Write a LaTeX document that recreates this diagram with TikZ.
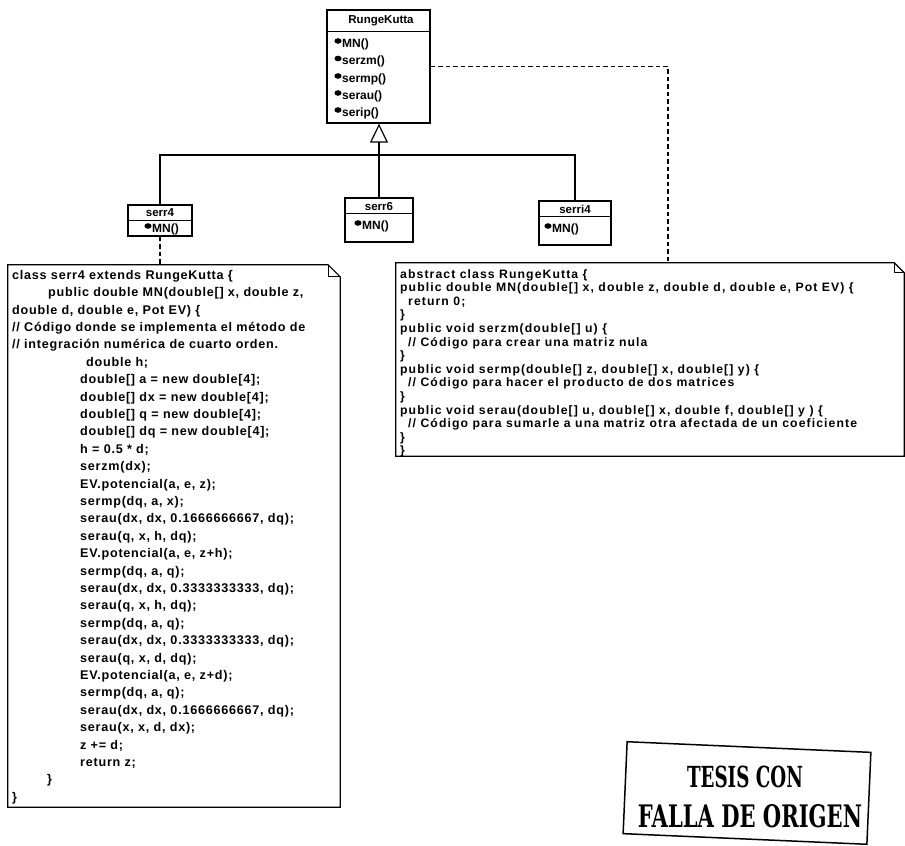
\documentclass[tikz,border=0pt]{standalone}
\usepackage{fontspec}
\setmainfont{Liberation Sans}
\newfontfamily\leftcode[LetterSpace=6]{Liberation Sans}
\newfontfamily\rightcode[LetterSpace=9]{Liberation Sans}
\newfontfamily\stampfont[FakeStretch=0.68]{DejaVu Serif}
\newfontfamily\stampnarrow[FakeStretch=0.63]{DejaVu Serif}
\usetikzlibrary{arrows.meta}
\begin{document}
\begin{tikzpicture}[x=1pt,y=-1pt,
  umlbox/.style={draw, line width=1.3pt, inner sep=0pt},
  conn/.style={line width=1.2pt},
  dashconn/.style={line width=1.2pt, dash pattern=on 4.5pt off 3pt},
  cname/.style={font=\bfseries\fontsize{11.5}{13}\selectfont, inner sep=0pt},
  meth/.style={font=\bfseries\fontsize{12}{13}\selectfont, inner sep=0pt, anchor=west},
  opicon/.style={fill, x radius=3.6pt, y radius=2.8pt},
  code/.style={anchor=north west, align=left, inner sep=0pt},
  note/.style={inner sep=0pt},
  notedraw/.style={line width=1.2pt},
  stamptxt/.style={inner sep=0pt}
]
\fill[white, use as bounding box] (0,0) rectangle (905,846);

% ---- RungeKutta class
\node[umlbox, minimum width=103pt, minimum height=113pt] (rk) at (378.5,66.5) {};
\draw[line width=1.3pt] ([yshift=-22pt]rk.north west) -- ([yshift=-22pt]rk.north east);
\node[cname] (rkt) at (381,21) {RungeKutta};
\foreach \n/\t/\yy in {m1/MN()/44, m2/serzm()/61.5, m3/sermp()/79, m4/serau()/96, m5/serip()/113} {
  \fill[opicon] (338,\yy-3) ellipse [];
  \node[meth] (rk\n) at (342,\yy) {\t};
}

% ---- subclasses
\node[umlbox, minimum width=64pt, minimum height=31pt] (s4) at (160,220.5) {};
\draw[line width=1.3pt] ([yshift=-16pt]s4.north west) -- ([yshift=-16pt]s4.north east);
\node[cname] (s4t) at (160,213) {serr4};
\fill[opicon] (148,226) ellipse [];
\node[meth] (s4m) at (152,229) {MN()};

\node[umlbox, minimum width=68pt, minimum height=44pt] (s6) at (379,220) {};
\draw[line width=1.3pt] ([yshift=-16pt]s6.north west) -- ([yshift=-16pt]s6.north east);
\node[cname] (s6t) at (379,206.5) {serr6};
\fill[opicon] (358,223) ellipse [];
\node[meth] (s6m) at (362,226) {MN()};

\node[umlbox, minimum width=72pt, minimum height=44pt] (si4) at (575,223) {};
\draw[line width=1.3pt] ([yshift=-16pt]si4.north west) -- ([yshift=-16pt]si4.north east);
\node[cname] (si4t) at (575,209.5) {serri4};
\fill[opicon] (548,226) ellipse [];
\node[meth] (si4m) at (552,229.5) {MN()};

% ---- generalization
\coordinate (jn) at (379,155);
\draw[conn, -{Triangle[open, length=19pt, width=18pt, line width=1.2pt]}] (jn) -- (rk.south -| jn);
\draw[conn] (s4.north) |- (jn) -| (si4.north);
\draw[conn] (s6.north) -- (jn);

% ---- left note
\node[note, minimum width=332pt, minimum height=542pt] (ln) at (174,536) {};
\draw[notedraw] (ln.north west) -- ([xshift=-12pt]ln.north east) -- ([yshift=-12pt]ln.north east) -- (ln.south east) -- (ln.south west) -- cycle;
\draw[notedraw] ([xshift=-12pt]ln.north east) -- ([xshift=-12pt,yshift=-12pt]ln.north east) -- ([yshift=-12pt]ln.north east);
\node[code, font=\leftcode\bfseries\fontsize{12.6}{17.4}\selectfont] (lnt) at (12,270) {%
class serr4 extends RungeKutta \{\\
\hspace*{36pt}public double MN(double[] x, double z,\\
double d, double e, Pot EV) \{\\
// Código donde se implementa el método de\\
// integración numérica de cuarto orden.\\
\hspace*{74pt}double h;\\
\hspace*{68pt}double[] a = new double[4];\\
\hspace*{68pt}double[] dx = new double[4];\\
\hspace*{68pt}double[] q = new double[4];\\
\hspace*{68pt}double[] dq = new double[4];\\
\hspace*{68pt}h = 0.5 * d;\\
\hspace*{68pt}serzm(dx);\\
\hspace*{68pt}EV.potencial(a, e, z);\\
\hspace*{68pt}sermp(dq, a, x);\\
\hspace*{68pt}serau(dx, dx, 0.1666666667, dq);\\
\hspace*{68pt}serau(q, x, h, dq);\\
\hspace*{68pt}EV.potencial(a, e, z+h);\\
\hspace*{68pt}sermp(dq, a, q);\\
\hspace*{68pt}serau(dx, dx, 0.3333333333, dq);\\
\hspace*{68pt}serau(q, x, h, dq);\\
\hspace*{68pt}sermp(dq, a, q);\\
\hspace*{68pt}serau(dx, dx, 0.3333333333, dq);\\
\hspace*{68pt}serau(q, x, d, dq);\\
\hspace*{68pt}EV.potencial(a, e, z+d);\\
\hspace*{68pt}sermp(dq, a, q);\\
\hspace*{68pt}serau(dx, dx, 0.1666666667, dq);\\
\hspace*{68pt}serau(x, x, d, dx);\\
\hspace*{68pt}z += d;\\
\hspace*{68pt}return z;\\
\hspace*{35pt}\}\\
\}};
\draw[dashconn] (s4.south) -- (s4.south |- ln.north);

% ---- right note
\node[note, minimum width=508pt, minimum height=193pt] (rn) at (650,359.5) {};
\draw[notedraw] (rn.north west) -- ([xshift=-10pt]rn.north east) -- ([yshift=-10pt]rn.north east) -- (rn.south east) -- (rn.south west) -- cycle;
\draw[notedraw] ([xshift=-10pt]rn.north east) -- ([xshift=-10pt,yshift=-10pt]rn.north east) -- ([yshift=-10pt]rn.north east);
\node[code, font=\rightcode\bfseries\fontsize{12.2}{13.6}\selectfont] (rnt) at (400,269) {%
abstract class RungeKutta \{\\
public double MN(double[] x, double z, double d, double e, Pot EV) \{\\
\hspace*{8pt}return 0;\\
\}\\
public void serzm(double[] u) \{\\
\hspace*{8pt}// Código para crear una matriz nula\\
\}\\
public void sermp(double[] z, double[] x, double[] y) \{\\
\hspace*{8pt}// Código para hacer el producto de dos matrices\\
\}\\
public void serau(double[] u, double[] x, double f, double[] y ) \{\\
\hspace*{8pt}// Código para sumarle a una matriz otra afectada de un coeficiente\\
\}\\
\}};
\coordinate (rna) at (668,263);
\draw[dashconn] (rk.east) -| (rna);

% ---- stamp
\node[draw, line width=1.5pt, minimum width=244pt, minimum height=92pt, rotate=-2.5] (stamp) at (747,793) {};
\node[stamptxt, font=\stampnarrow\bfseries\fontsize{29}{29}\selectfont] (st1) at (745,777) {TESIS CON};
\node[stamptxt, font=\stampfont\bfseries\fontsize{31}{31}\selectfont] (st2) at (750,816) {FALLA DE ORIGEN};
\end{tikzpicture}
\end{document}
